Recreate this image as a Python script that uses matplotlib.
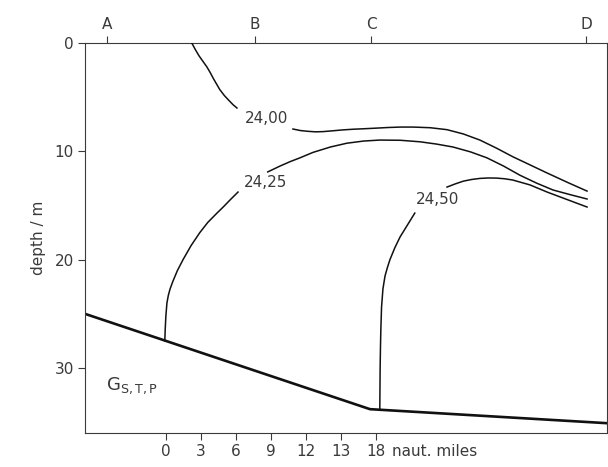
import matplotlib.pyplot as plt

# horizontal position in units of the bottom tick spacing (0 = first station mark)
floor_x = [-2.31, 5.83, 12.63]
floor_depth = [25.0, 33.8, 35.1]

# isopycnal 24,00 (two pieces, label in between)
iso2400_a_x = [0.74, 0.84, 0.95, 1.06, 1.17, 1.27, 1.36, 1.45, 1.54, 1.67, 1.80, 1.92, 2.03]
iso2400_a_d = [0.0, 0.6, 1.2, 1.7, 2.2, 2.75, 3.3, 3.8, 4.3, 4.85, 5.3, 5.7, 6.0]
iso2400_b_x = [3.63, 3.84, 4.05, 4.27, 4.49, 4.78, 5.06, 5.35, 5.63, 6.0, 6.35, 6.7, 7.06,
               7.55, 8.03, 8.5, 8.97, 9.44, 9.91, 10.4, 10.89, 11.46, 12.03]
iso2400_b_d = [7.94, 8.08, 8.15, 8.2, 8.18, 8.1, 8.02, 7.96, 7.92, 7.86, 7.8, 7.76, 7.76,
               7.82, 8.0, 8.4, 8.96, 9.7, 10.5, 11.25, 12.0, 12.85, 13.67]

# isopycnal 24,25
iso2425_a_x = [-0.03, -0.02, 0.0, 0.03, 0.07, 0.12, 0.2, 0.33, 0.49, 0.72, 0.97, 1.2, 1.46,
               1.65, 1.83, 2.06]
iso2425_a_d = [27.5, 26.5, 25.2, 24.0, 23.3, 22.7, 22.0, 21.0, 20.0, 18.7, 17.5, 16.55, 15.7,
               15.1, 14.5, 13.76]
iso2425_b_x = [2.91, 3.26, 3.55, 3.83, 4.2, 4.7, 5.17, 5.65, 6.11, 6.7, 7.26, 7.73, 8.2,
               8.7, 9.17, 9.64, 10.11, 10.6, 11.06, 11.55, 12.03]
iso2425_b_d = [11.9, 11.36, 10.95, 10.6, 10.1, 9.6, 9.25, 9.05, 8.96, 8.98, 9.12, 9.33, 9.6,
               10.05, 10.6, 11.35, 12.2, 12.95, 13.57, 14.0, 14.4]

# isopycnal 24,50
iso2450_a_x = [6.11, 6.12, 6.13, 6.14, 6.16, 6.2, 6.26, 6.33, 6.4, 6.54, 6.69, 6.9, 7.11]
iso2450_a_d = [33.9, 30.0, 28.0, 26.5, 24.4, 22.7, 21.5, 20.7, 20.0, 18.9, 17.9, 16.8, 15.7]
iso2450_b_x = [8.03, 8.27, 8.5, 8.73, 8.97, 9.2, 9.44, 9.67, 9.91, 10.4, 10.89, 11.46, 12.03]
iso2450_b_d = [13.3, 13.0, 12.75, 12.6, 12.5, 12.46, 12.47, 12.53, 12.65, 13.1, 13.76, 14.45,
               15.14]

label_text = ['24,00', '24,25', '24,50']
label_x = [2.87, 2.86, 7.77]
label_d = [7.0, 12.9, 14.4]

bottom_ticks = [0, 1, 2, 3, 4, 5, 6]
bottom_labels = ['0', '3', '6', '9', '12', '13', '18']
top_ticks = [-1.69, 2.54, 5.86, 12.0]
top_labels = ['A', 'B', 'C', 'D']
depth_ticks = [0, 10, 20, 30]

ink = '#111111'
grey = '#3a3a3a'

fig = plt.figure(figsize=(6.08, 4.67), dpi=100)
ax = fig.add_axes([85 / 608, 1 - 433 / 467, 522 / 608, 390 / 467])

ax.plot(floor_x, floor_depth, color=ink, lw=1.9, solid_capstyle='butt')
for xs, ds in [(iso2400_a_x, iso2400_a_d), (iso2400_b_x, iso2400_b_d),
               (iso2425_a_x, iso2425_a_d), (iso2425_b_x, iso2425_b_d),
               (iso2450_a_x, iso2450_a_d), (iso2450_b_x, iso2450_b_d)]:
    ax.plot(xs, ds, color=ink, lw=1.1)

for t, x, d in zip(label_text, label_x, label_d):
    ax.text(x, d, t, fontsize=11, color=grey, ha='center', va='center')

ax.text(0.04, 0.12, r'$\mathrm{G}_{\mathrm{S,T,P}}$', transform=ax.transAxes,
        fontsize=13, color=grey, ha='left', va='center')

ax.set_xlim(-2.31, 12.6)
ax.set_ylim(36.0, 0)

ax.set_yticks(depth_ticks)
ax.set_ylabel('depth / m', fontsize=11, color=grey, labelpad=6)
ax.set_xticks(bottom_ticks)
ax.set_xticklabels(bottom_labels)
ax.annotate('naut. miles', xy=(6.47, 0), xycoords=('data', 'axes fraction'),
            xytext=(0, -8), textcoords='offset points',
            fontsize=11, color=grey, ha='left', va='top')

top = ax.secondary_xaxis('top')
top.set_xticks(top_ticks)
top.set_xticklabels(top_labels)
top.tick_params(length=5, width=0.8, color=grey, labelcolor=grey, labelsize=11, pad=3)
top.spines['top'].set_color(grey)
top.spines['top'].set_linewidth(0.8)

ax.tick_params(length=5, width=0.8, color=grey, labelcolor=grey, labelsize=11, pad=3)
for side in ['left', 'bottom', 'top', 'right']:
    ax.spines[side].set_color(grey)
    ax.spines[side].set_linewidth(0.8)
ax.spines['top'].set_visible(False)

fig.savefig('out.png', dpi=100)
